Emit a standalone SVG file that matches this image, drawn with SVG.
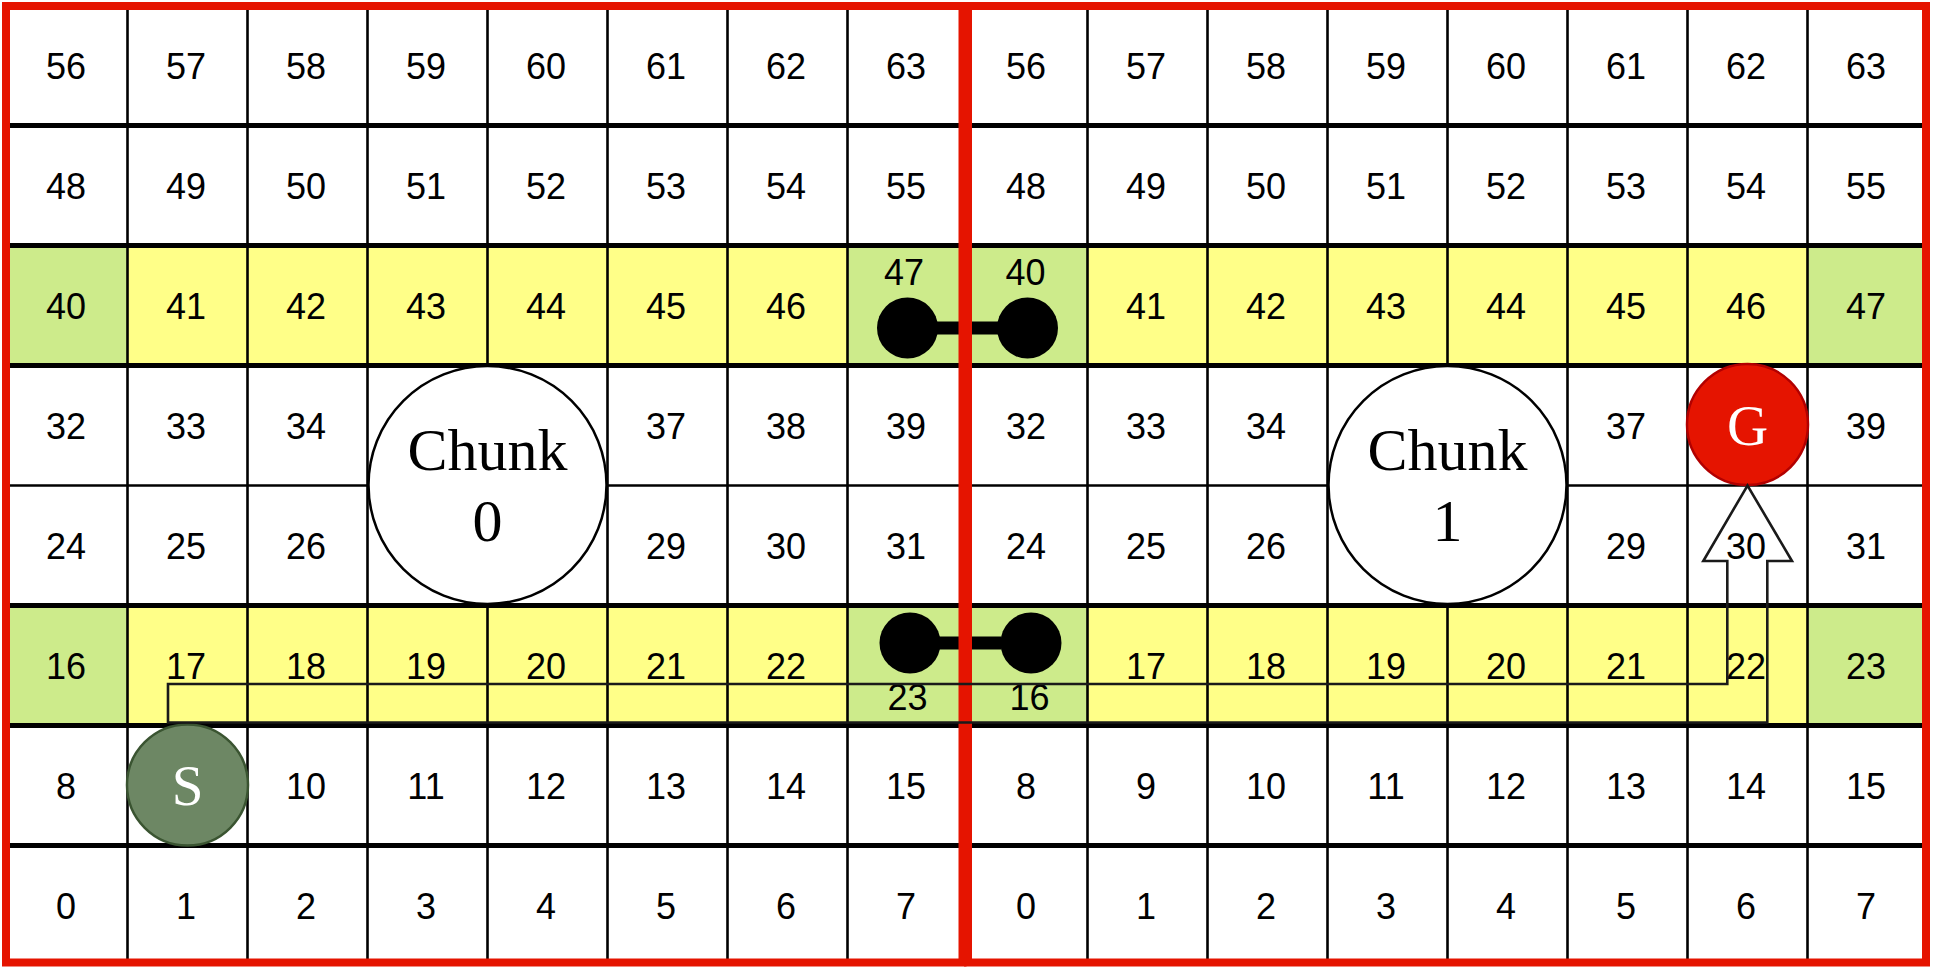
<svg xmlns="http://www.w3.org/2000/svg" width="1935" height="972" viewBox="0 0 1935 972">
<style>
.n{font-family:"Liberation Sans",Arial,sans-serif;font-size:36px;fill:#000;text-anchor:middle}
.s{font-family:"Liberation Serif","Times New Roman",serif;text-anchor:middle}
.vl{stroke:#000;stroke-width:2.6}
.hk{stroke:#000;stroke-width:5}
.ht{stroke:#000;stroke-width:2.5}
.y{fill:#ffff88}
.g{fill:#cdeb8b}
.red{fill:none;stroke:#e51400;stroke-width:8}
.dot{fill:#000}
</style>
<rect width="1935" height="972" fill="#ffffff"/>
<g id="fills">
<rect class="y" x="7.5" y="245.5" width="1920" height="120"/>
<rect class="y" x="7.5" y="605.5" width="1920" height="120"/>
<rect class="g" x="7.5" y="245.5" width="120" height="120"/>
<rect class="g" x="847.5" y="245.5" width="240" height="120"/>
<rect class="g" x="1807.5" y="245.5" width="120" height="120"/>
<rect class="g" x="7.5" y="605.5" width="120" height="120"/>
<rect class="g" x="847.5" y="605.5" width="240" height="120"/>
<rect class="g" x="1807.5" y="605.5" width="120" height="120"/>
</g>
<g id="gridlines">
<line class="vl" x1="127.5" y1="5.5" x2="127.5" y2="965.5"/>
<line class="vl" x1="247.5" y1="5.5" x2="247.5" y2="965.5"/>
<line class="vl" x1="367.5" y1="5.5" x2="367.5" y2="965.5"/>
<line class="vl" x1="487.5" y1="5.5" x2="487.5" y2="965.5"/>
<line class="vl" x1="607.5" y1="5.5" x2="607.5" y2="965.5"/>
<line class="vl" x1="727.5" y1="5.5" x2="727.5" y2="965.5"/>
<line class="vl" x1="847.5" y1="5.5" x2="847.5" y2="965.5"/>
<line class="vl" x1="1087.5" y1="5.5" x2="1087.5" y2="965.5"/>
<line class="vl" x1="1207.5" y1="5.5" x2="1207.5" y2="965.5"/>
<line class="vl" x1="1327.5" y1="5.5" x2="1327.5" y2="965.5"/>
<line class="vl" x1="1447.5" y1="5.5" x2="1447.5" y2="965.5"/>
<line class="vl" x1="1567.5" y1="5.5" x2="1567.5" y2="965.5"/>
<line class="vl" x1="1687.5" y1="5.5" x2="1687.5" y2="965.5"/>
<line class="vl" x1="1807.5" y1="5.5" x2="1807.5" y2="965.5"/>
<line class="hk" x1="7.5" y1="125.5" x2="1927.5" y2="125.5"/>
<line class="hk" x1="7.5" y1="245.5" x2="1927.5" y2="245.5"/>
<line class="hk" x1="7.5" y1="365.5" x2="1927.5" y2="365.5"/>
<line class="ht" x1="7.5" y1="485.5" x2="1927.5" y2="485.5"/>
<line class="hk" x1="7.5" y1="605.5" x2="1927.5" y2="605.5"/>
<line class="hk" x1="7.5" y1="725.5" x2="1927.5" y2="725.5"/>
<line class="hk" x1="7.5" y1="845.5" x2="1927.5" y2="845.5"/>
</g>
<g id="cells-chunk0" transform="translate(-1.5,1)">
<text class="n" y="78"><tspan x="67.5">56</tspan><tspan x="187.5">57</tspan><tspan x="307.5">58</tspan><tspan x="427.5">59</tspan><tspan x="547.5">60</tspan><tspan x="667.5">61</tspan><tspan x="787.5">62</tspan><tspan x="907.5">63</tspan></text>
<text class="n" y="198"><tspan x="67.5">48</tspan><tspan x="187.5">49</tspan><tspan x="307.5">50</tspan><tspan x="427.5">51</tspan><tspan x="547.5">52</tspan><tspan x="667.5">53</tspan><tspan x="787.5">54</tspan><tspan x="907.5">55</tspan></text>
<text class="n" y="318"><tspan x="67.5">40</tspan><tspan x="187.5">41</tspan><tspan x="307.5">42</tspan><tspan x="427.5">43</tspan><tspan x="547.5">44</tspan><tspan x="667.5">45</tspan><tspan x="787.5">46</tspan></text>
<text class="n" x="905.5" y="284">47</text>
<text class="n" y="438"><tspan x="67.5">32</tspan><tspan x="187.5">33</tspan><tspan x="307.5">34</tspan><tspan x="667.5">37</tspan><tspan x="787.5">38</tspan><tspan x="907.5">39</tspan></text>
<text class="n" y="558"><tspan x="67.5">24</tspan><tspan x="187.5">25</tspan><tspan x="307.5">26</tspan><tspan x="667.5">29</tspan><tspan x="787.5">30</tspan><tspan x="907.5">31</tspan></text>
<text class="n" y="678"><tspan x="67.5">16</tspan><tspan x="187.5">17</tspan><tspan x="307.5">18</tspan><tspan x="427.5">19</tspan><tspan x="547.5">20</tspan><tspan x="667.5">21</tspan><tspan x="787.5">22</tspan></text>
<text class="n" x="909" y="709">23</text>
<text class="n" y="798"><tspan x="67.5">8</tspan><tspan x="307.5">10</tspan><tspan x="427.5">11</tspan><tspan x="547.5">12</tspan><tspan x="667.5">13</tspan><tspan x="787.5">14</tspan><tspan x="907.5">15</tspan></text>
<text class="n" y="918"><tspan x="67.5">0</tspan><tspan x="187.5">1</tspan><tspan x="307.5">2</tspan><tspan x="427.5">3</tspan><tspan x="547.5">4</tspan><tspan x="667.5">5</tspan><tspan x="787.5">6</tspan><tspan x="907.5">7</tspan></text>
</g>
<g id="cells-chunk1" transform="translate(-1.5,1)">
<text class="n" y="78"><tspan x="1027.5">56</tspan><tspan x="1147.5">57</tspan><tspan x="1267.5">58</tspan><tspan x="1387.5">59</tspan><tspan x="1507.5">60</tspan><tspan x="1627.5">61</tspan><tspan x="1747.5">62</tspan><tspan x="1867.5">63</tspan></text>
<text class="n" y="198"><tspan x="1027.5">48</tspan><tspan x="1147.5">49</tspan><tspan x="1267.5">50</tspan><tspan x="1387.5">51</tspan><tspan x="1507.5">52</tspan><tspan x="1627.5">53</tspan><tspan x="1747.5">54</tspan><tspan x="1867.5">55</tspan></text>
<text class="n" x="1027" y="284">40</text>
<text class="n" y="318"><tspan x="1147.5">41</tspan><tspan x="1267.5">42</tspan><tspan x="1387.5">43</tspan><tspan x="1507.5">44</tspan><tspan x="1627.5">45</tspan><tspan x="1747.5">46</tspan><tspan x="1867.5">47</tspan></text>
<text class="n" y="438"><tspan x="1027.5">32</tspan><tspan x="1147.5">33</tspan><tspan x="1267.5">34</tspan><tspan x="1627.5">37</tspan><tspan x="1867.5">39</tspan></text>
<text class="n" y="558"><tspan x="1027.5">24</tspan><tspan x="1147.5">25</tspan><tspan x="1267.5">26</tspan><tspan x="1627.5">29</tspan><tspan x="1747.5">30</tspan><tspan x="1867.5">31</tspan></text>
<text class="n" x="1031" y="709">16</text>
<text class="n" y="678"><tspan x="1147.5">17</tspan><tspan x="1267.5">18</tspan><tspan x="1387.5">19</tspan><tspan x="1507.5">20</tspan><tspan x="1627.5">21</tspan><tspan x="1747.5">22</tspan><tspan x="1867.5">23</tspan></text>
<text class="n" y="798"><tspan x="1027.5">8</tspan><tspan x="1147.5">9</tspan><tspan x="1267.5">10</tspan><tspan x="1387.5">11</tspan><tspan x="1507.5">12</tspan><tspan x="1627.5">13</tspan><tspan x="1747.5">14</tspan><tspan x="1867.5">15</tspan></text>
<text class="n" y="918"><tspan x="1027.5">0</tspan><tspan x="1147.5">1</tspan><tspan x="1267.5">2</tspan><tspan x="1387.5">3</tspan><tspan x="1507.5">4</tspan><tspan x="1627.5">5</tspan><tspan x="1747.5">6</tspan><tspan x="1867.5">7</tspan></text>
</g>
<g id="chunk0">
<circle cx="487.5" cy="485" r="119" fill="#ffffff" stroke="#000" stroke-width="2.5"/>
<text class="s" x="487.5" y="470" font-size="60">Chunk</text>
<text class="s" x="487.5" y="541" font-size="60">0</text>
</g>
<g id="chunk1">
<circle cx="1447.5" cy="485" r="119" fill="#ffffff" stroke="#000" stroke-width="2.5"/>
<text class="s" x="1447.5" y="470" font-size="60">Chunk</text>
<text class="s" x="1447.5" y="541" font-size="60">1</text>
</g>
<g id="portal-top">
<rect class="dot" x="936" y="321.5" width="62" height="13"/>
<circle class="dot" cx="907.5" cy="328" r="30.5"/>
<circle class="dot" cx="1027.5" cy="328" r="30.5"/>
</g>
<g id="portal-bottom">
<rect class="dot" x="939" y="636.5" width="62" height="13"/>
<circle class="dot" cx="910" cy="643" r="30.5"/>
<circle class="dot" cx="1031" cy="643" r="30.5"/>
</g>
<g id="chunk-borders">
<rect class="red" x="6" y="6" width="956.5" height="956.5"/>
<rect class="red" x="968" y="6" width="958" height="956.5"/>
</g>
<g id="goal">
<circle cx="1747.5" cy="424.5" r="60.5" fill="#e51400" stroke="#b20000" stroke-width="2.5"/>
<text class="s" x="1747.5" y="445" font-size="57" fill="#ffffff">G</text>
</g>
<g id="start">
<circle cx="187.5" cy="785" r="60.5" fill="#6d8764" stroke="#3a5431" stroke-width="2.5"/>
<text class="s" x="187.5" y="805" font-size="57" fill="#ffffff">S</text>
</g>
<g id="connectors">
<path d="M168 722.5 L168 684 L1727.3 684 L1727.3 561 L1703.3 561 L1747.5 485.5 L1792 561 L1767.3 561 L1767.3 722.5 Z" fill="none" stroke="#1a1a1a" stroke-width="2.6" stroke-linejoin="miter"/>
</g>
</svg>
